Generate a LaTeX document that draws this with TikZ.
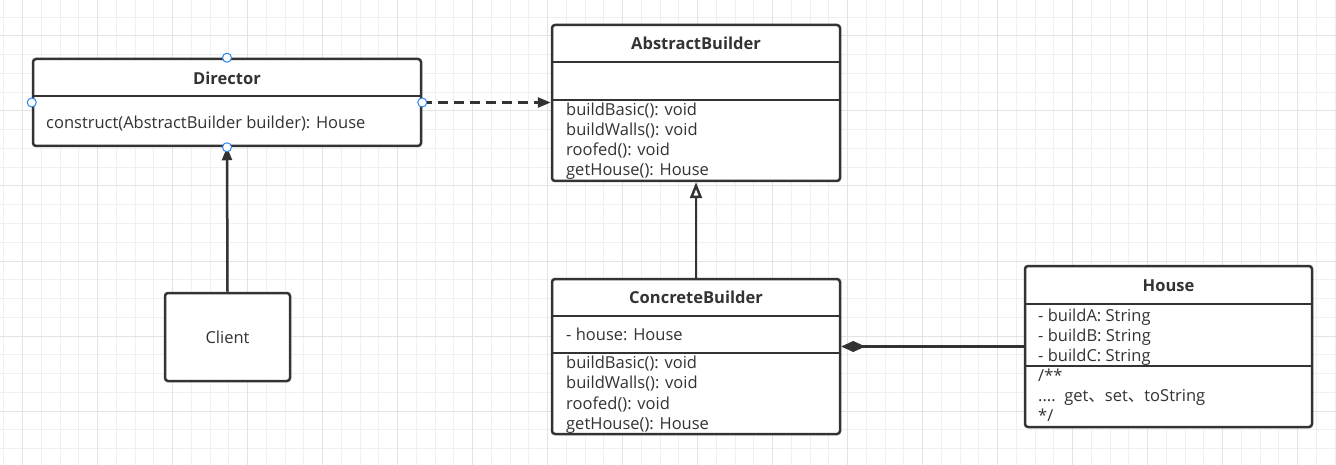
\documentclass[tikz,border=0pt]{standalone}
\usepackage{fontspec}
\setmainfont{Open Sans}
\newfontfamily\cjk{Noto Sans CJK SC}
\usetikzlibrary{arrows.meta}
\definecolor{ink}{HTML}{333333}
\definecolor{gridminor}{HTML}{F0F0F0}
\definecolor{gridmajor}{HTML}{E3E3E3}
\definecolor{handle}{HTML}{2B86F0}
\tikzset{
  cls/.style={draw=ink, line width=2.5pt, rounded corners=3pt, fill=white, inner sep=0pt},
  sep/.style={draw=ink, line width=2pt},
  txt/.style={anchor=base west, inner sep=0pt, text=ink, font=\fontsize{16.5}{20}\selectfont},
  ttl/.style={anchor=base, inner sep=0pt, text=ink, font=\fontsize{16.5}{20}\selectfont\bfseries},
  conn/.style={draw=ink, line width=2.5pt},
  hdl/.style={circle, draw=handle, fill=white, line width=1pt, minimum size=9pt, inner sep=0pt},
}
\begin{document}
\begin{tikzpicture}[x=1pt,y=-1pt]
\useasboundingbox (0,0) rectangle (1336,465);
% grid
\foreach \i in {0,...,71} {
  \draw[gridminor, line width=1pt] ({3.75+18.75*\i},0) -- ({3.75+18.75*\i},465);
}
\foreach \i in {0,...,25} {
  \draw[gridminor, line width=1pt] (0,{-1.5+18.75*\i}) -- (1336,{-1.5+18.75*\i});
}
\foreach \i in {0,...,17} {
  \draw[gridmajor, line width=1pt] ({22.5+75*\i},0) -- ({22.5+75*\i},465);
}
\foreach \i in {0,...,5} {
  \draw[gridmajor, line width=1pt] (0,{36+75*\i}) -- (1336,{36+75*\i});
}

% Director
\node[cls, minimum width=388pt, minimum height=87pt] (dir) at (227,102.5) {};
\draw[sep] (dir.west |- 0,96) -- (dir.east |- 0,96);
\node[ttl] (dirT) at (227,85) {Director};
\node[txt] (dirM) at (46,128.3) {construct(AbstractBuilder builder): House};

% AbstractBuilder
\node[cls, minimum width=288pt, minimum height=156pt] (ab) at (696,103) {};
\draw[sep] (ab.west |- 0,62) -- (ab.east |- 0,62);
\draw[sep] (ab.west |- 0,100) -- (ab.east |- 0,100);
\node[ttl] (abT) at (696,50) {AbstractBuilder};
\node[txt] (ab1) at (566,116) {buildBasic(): void};
\node[txt] (ab2) at (566,136) {buildWalls(): void};
\node[txt] (ab3) at (566,156) {roofed(): void};
\node[txt] (ab4) at (566,176) {getHouse(): House};

% ConcreteBuilder
\node[cls, minimum width=288pt, minimum height=155pt] (cb) at (696,356.5) {};
\draw[sep] (cb.west |- 0,316) -- (cb.east |- 0,316);
\draw[sep] (cb.west |- 0,353) -- (cb.east |- 0,353);
\node[ttl] (cbT) at (696,303.3) {ConcreteBuilder};
\node[txt] (cbF) at (566,340) {- house: House};
\node[txt] (cb1) at (566,368) {buildBasic(): void};
\node[txt] (cb2) at (566,388.5) {buildWalls(): void};
\node[txt] (cb3) at (566,409) {roofed(): void};
\node[txt] (cb4) at (566,429) {getHouse(): House};

% House
\node[cls, minimum width=287pt, minimum height=161pt] (house) at (1168.5,346.5) {};
\draw[sep] (house.west |- 0,303.5) -- (house.east |- 0,303.5);
\draw[sep] (house.west |- 0,365.5) -- (house.east |- 0,365.5);
\node[ttl] (hT) at (1168.5,291.7) {House};
\node[txt] (h1) at (1038,321) {- buildA: String};
\node[txt] (h2) at (1038,341) {- buildB: String};
\node[txt] (h3) at (1038,361) {- buildC: String};
\node[txt] (h4) at (1038,381.7) {/**};
\node[txt] (h5) at (1038,401.7) {....\ \ get{\cjk 、}set{\cjk 、}toString};
\node[txt] (h6) at (1038,421.7) {*/};

% Client
\node[cls, minimum width=125pt, minimum height=88pt] (client) at (227.5,337) {};
\node[ttl, font=\fontsize{16.5}{20}\selectfont] (clT) at (227.5,343.5) {Client};

% connectors
\draw[conn, -{Triangle[length=13pt,width=10pt]}] (client.north) -- (dir.south);
\draw[conn, dash pattern=on 10pt off 6pt, -{Triangle[length=13pt,width=10pt]}] (dir.east) -- (ab.west |- dir.east);
\draw[conn, -{Triangle[open,length=16pt,width=12pt,fill=white]}] (cb.north) -- (ab.south);
\draw[conn, -{Diamond[length=24pt,width=11pt]}] (house.west) -- (cb.east |- house.west);

% handles
\node[hdl] (h-n) at (dir.north) {};
\node[hdl] (h-w) at (dir.west) {};
\node[hdl] (h-e) at (dir.east) {};
\node[hdl] (h-s) at (dir.south) {};
\end{tikzpicture}
\end{document}
